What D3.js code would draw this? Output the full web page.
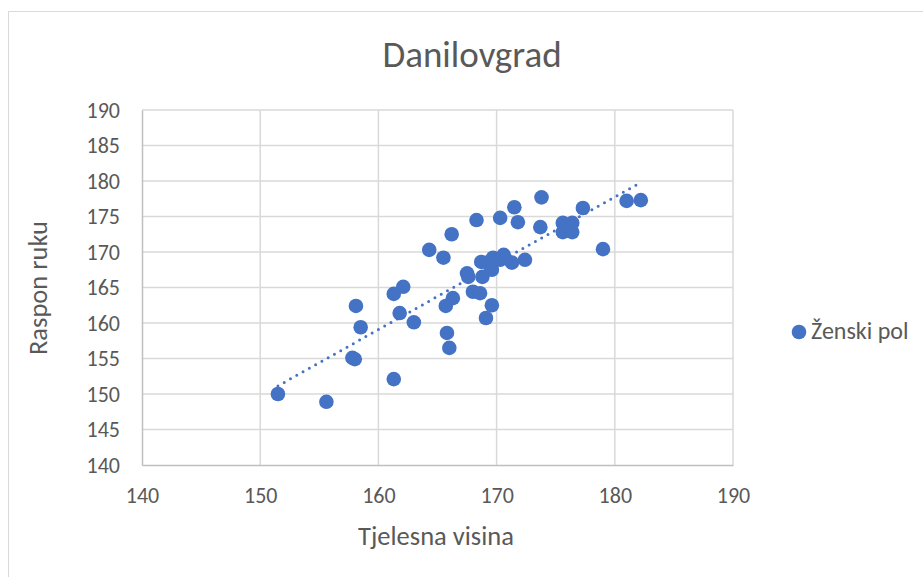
<!DOCTYPE html>
<html>
<head>
<meta charset="utf-8">
<script src="https://cdn.jsdelivr.net/npm/d3@7"></script>
<style>
  html, body { margin: 0; padding: 0; background: #fff; }
  svg { display: block; }
  text { font-family: Carlito, Calibri, "Open Sans", sans-serif; fill: #595959; }
</style>
</head>
<body>
<svg id="chart" width="923" height="577"></svg>
<script>
const title = "Danilovgrad";
const xTitle = "Tjelesna visina";
const yTitle = "Raspon ruku";
const seriesName = "Ženski pol";
const xTicks = [140, 150, 160, 170, 180, 190];
const yTicks = [140, 145, 150, 155, 160, 165, 170, 175, 180, 185, 190];

const heights = [151.5, 155.6, 157.8, 158.0, 158.1, 158.5, 161.3, 161.3, 161.8, 162.1,
  163.0, 164.3, 165.5, 165.7, 165.8, 166.0, 166.2, 166.3, 167.5, 167.6,
  168.0, 168.3, 168.6, 168.7, 168.8, 169.2, 169.1, 169.6, 169.6, 169.7,
  170.3, 170.3, 170.6, 171.3, 171.5, 171.8, 172.4, 173.8, 173.7, 175.6,
  176.4, 175.6, 176.4, 177.3, 179.0, 181.0, 182.2];
const armSpans = [150.0, 148.9, 155.1, 154.9, 162.4, 159.4, 152.1, 164.1, 161.4, 165.1,
  160.1, 170.3, 169.2, 162.4, 158.6, 156.5, 172.5, 163.5, 167.0, 166.5,
  164.4, 174.5, 164.2, 168.6, 166.5, 168.5, 160.7, 167.5, 162.5, 169.2,
  174.8, 168.9, 169.6, 168.5, 176.3, 174.2, 168.9, 177.7, 173.5, 174.1,
  174.1, 172.8, 172.8, 176.2, 170.4, 177.2, 177.3];

const color = "#4472C4";
const svg = d3.select("#chart");
const FONT = 'Carlito, Calibri, "Open Sans", sans-serif';

// chart border
svg.append("rect").attr("x", 8.5).attr("y", 11.5).attr("width", 940).attr("height", 620)
  .attr("fill", "none").attr("stroke", "#d9d9d9").attr("stroke-width", 1);

const pL = 142, pR = 733, pT = 110, pB = 465;
const x = d3.scaleLinear().domain([140, 190]).range([pL, pR]);
const y = d3.scaleLinear().domain([140, 190]).range([pB, pT]);

// gridlines
const grid = svg.append("g");
grid.selectAll(".vx").data(xTicks.slice(1)).join("line")
  .attr("x1", d => x(d)).attr("x2", d => x(d)).attr("y1", pT).attr("y2", pB)
  .attr("stroke", "#d9d9d9").attr("stroke-width", 1.5);
grid.selectAll(".hy").data(yTicks.slice(1)).join("line")
  .attr("x1", pL).attr("x2", pR).attr("y1", d => y(d)).attr("y2", d => y(d))
  .attr("stroke", "#d9d9d9").attr("stroke-width", 1.5);

// axes
const xAxis = d3.axisBottom(x).tickValues(xTicks).tickSize(0).tickPadding(22);
const yAxis = d3.axisLeft(y).tickValues(yTicks).tickSize(0).tickPadding(22);
const gx = svg.append("g").attr("transform", `translate(0,${pB})`).call(xAxis);
const gy = svg.append("g").attr("transform", `translate(${pL},0)`).call(yAxis);
[gx, gy].forEach(g => {
  g.select(".domain").attr("stroke", "#bfbfbf").attr("stroke-width", 1.5);
  g.selectAll("text").style("font-family", FONT)
    .style("font-size", "22px").attr("fill", "#595959");
});

// trendline (linear regression)
const n = heights.length;
const mx = d3.mean(heights), my = d3.mean(armSpans);
let sxy = 0, sxx = 0;
for (let i = 0; i < n; i++) { sxy += (heights[i]-mx)*(armSpans[i]-my); sxx += (heights[i]-mx)**2; }
const slope = sxy / sxx, icpt = my - slope*mx;
const x0 = d3.min(heights), x1 = d3.max(heights);
svg.append("line")
  .attr("x1", x(x0)).attr("y1", y(slope*x0+icpt))
  .attr("x2", x(x1)).attr("y2", y(slope*x1+icpt))
  .attr("stroke", color).attr("stroke-width", 3).attr("stroke-linecap", "round")
  .attr("stroke-dasharray", "0 7.2");

// points
svg.append("g").selectAll("circle").data(heights.map((h, i) => [h, armSpans[i]])).join("circle")
  .attr("cx", d => x(d[0])).attr("cy", d => y(d[1])).attr("r", 7.3).attr("fill", color);

// title
svg.append("text").attr("x", 472).attr("y", 67).attr("text-anchor", "middle")
  .style("font-size", "37px").text(title);
// axis titles
svg.append("text").attr("x", 436).attr("y", 545).attr("text-anchor", "middle")
  .style("font-size", "26.5px").text(xTitle);
svg.append("text").attr("transform", "translate(47,288) rotate(-90)").attr("text-anchor", "middle")
  .style("font-size", "26.5px").text(yTitle);

// legend
svg.append("circle").attr("cx", 799).attr("cy", 332).attr("r", 7.3).attr("fill", color);
svg.append("text").attr("x", 811).attr("y", 339).style("font-size", "24px").text(seriesName);
</script>
</body>
</html>
